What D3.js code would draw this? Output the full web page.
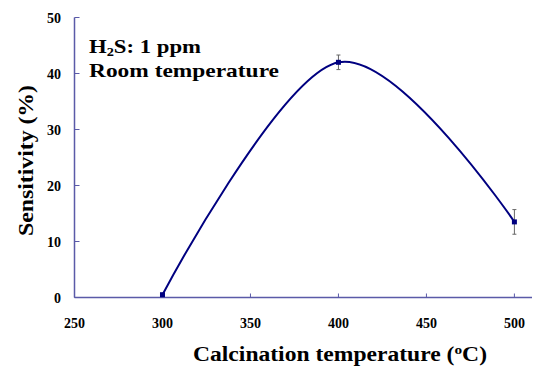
<!DOCTYPE html>
<html>
<head>
<meta charset="utf-8">
<script src="https://cdn.jsdelivr.net/npm/d3@7"></script>
<style>
  body { margin: 0; background: #fff; }
  text { font-family: "Liberation Serif", "Times New Roman", serif; font-weight: bold; }
</style>
</head>
<body>
<div id="chart"></div>
<script>
const w = 534;
const h = 367;

// data
const temps = [300, 400, 500];
const sensitivity = [0.5, 42, 13.5];
const errors = [0, 1.3, 2.2];
const xTicks = [250, 300, 350, 400, 450, 500];
const yTicks = [0, 10, 20, 30, 40, 50];

const points = temps.map((t, i) => ({ t: t, s: sensitivity[i], e: errors[i] }));

const svg = d3.select("#chart")
  .append("svg")
  .attr("width", w)
  .attr("height", h);

const x = d3.scaleLinear().domain([250, 510]).range([74.5, 532]);
const y = d3.scaleLinear().domain([0, 50]).range([297.5, 17.5]);

const axisColor = "#5a5aa8";
const lineColor = "#000080";

// axes
svg.append("line")
  .attr("x1", x(250)).attr("x2", x(250))
  .attr("y1", y(50)).attr("y2", y(0))
  .attr("stroke", axisColor).attr("stroke-width", 1.5);
svg.append("line")
  .attr("x1", x(250)).attr("x2", x(510))
  .attr("y1", y(0)).attr("y2", y(0))
  .attr("stroke", axisColor).attr("stroke-width", 1.5);

svg.selectAll(".ytick")
  .data(yTicks)
  .enter()
  .append("line")
  .attr("x1", x(250)).attr("x2", x(250) + 5)
  .attr("y1", d => y(d)).attr("y2", d => y(d))
  .attr("stroke", axisColor);

svg.selectAll(".xtick")
  .data(xTicks)
  .enter()
  .append("line")
  .attr("x1", d => x(d)).attr("x2", d => x(d))
  .attr("y1", y(0)).attr("y2", y(0) - 4)
  .attr("stroke", axisColor);

svg.selectAll(".ylab")
  .data(yTicks)
  .enter()
  .append("text")
  .attr("x", 61)
  .attr("y", d => y(d) + 5)
  .attr("text-anchor", "end")
  .attr("font-family", "Liberation Sans")
  .attr("font-size", 14)
  .text(d => d);

svg.selectAll(".xlab")
  .data(xTicks)
  .enter()
  .append("text")
  .attr("x", d => x(d))
  .attr("y", 328)
  .attr("text-anchor", "middle")
  .attr("font-family", "Liberation Sans")
  .attr("font-size", 14)
  .text(d => d);

// smoothed line
const line = d3.line()
  .x(d => x(d.t))
  .y(d => y(d.s))
  .curve(d3.curveCardinal.tension(0));

svg.append("path")
  .datum(points)
  .attr("d", line)
  .attr("fill", "none")
  .attr("stroke", lineColor)
  .attr("stroke-width", 2);

// error bars
const eb = svg.selectAll(".err")
  .data(points.filter(d => d.e > 0))
  .enter()
  .append("g")
  .attr("stroke", "#666");
eb.append("line")
  .attr("x1", d => x(d.t)).attr("x2", d => x(d.t))
  .attr("y1", d => y(d.s - d.e)).attr("y2", d => y(d.s + d.e));
eb.append("line")
  .attr("x1", d => x(d.t) - 2).attr("x2", d => x(d.t) + 2)
  .attr("y1", d => y(d.s + d.e)).attr("y2", d => y(d.s + d.e));
eb.append("line")
  .attr("x1", d => x(d.t) - 2).attr("x2", d => x(d.t) + 2)
  .attr("y1", d => y(d.s - d.e)).attr("y2", d => y(d.s - d.e));

// markers
svg.selectAll(".mark")
  .data(points)
  .enter()
  .append("rect")
  .attr("x", d => x(d.t) - 2.5)
  .attr("y", d => y(d.s) - 2.5)
  .attr("width", 5)
  .attr("height", 5)
  .attr("fill", lineColor);

// annotation
const note = svg.append("text")
  .attr("x", 89)
  .attr("y", 53)
  .attr("font-size", 19)
  .attr("textLength", 112)
  .attr("lengthAdjust", "spacingAndGlyphs");
note.append("tspan").text("H");
note.append("tspan").attr("font-size", 12).attr("dy", 3).text("2");
note.append("tspan").attr("dy", -3).text("S: 1 ppm");

svg.append("text")
  .attr("x", 89)
  .attr("y", 77)
  .attr("font-size", 19)
  .attr("textLength", 190)
  .attr("lengthAdjust", "spacingAndGlyphs")
  .text("Room temperature");

// axis titles
const xt = svg.append("text")
  .attr("x", 193)
  .attr("y", 361)
  .attr("font-size", 20)
  .attr("textLength", 294)
  .attr("lengthAdjust", "spacingAndGlyphs");
xt.append("tspan").text("Calcination temperature (");
xt.append("tspan").attr("font-size", 13).attr("dy", -7).text("o");
xt.append("tspan").attr("dy", 7).text("C)");

svg.append("text")
  .attr("transform", "translate(33,236) rotate(-90)")
  .attr("font-size", 20)
  .attr("textLength", 151)
  .attr("lengthAdjust", "spacingAndGlyphs")
  .text("Sensitivity (%)");
</script>
</body>
</html>
